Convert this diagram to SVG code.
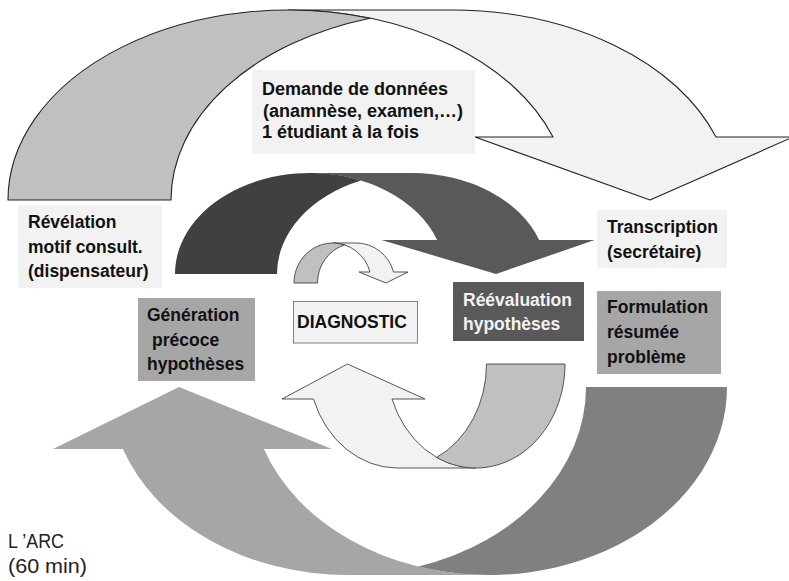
<svg xmlns="http://www.w3.org/2000/svg" width="789" height="581" viewBox="0 0 789 581">
<style>
.t{font-family:"Liberation Sans",Arial,sans-serif;font-weight:bold;font-size:17.5px;fill:#111}
.w{fill:#f2f2f2}
.reg{font-family:"Liberation Sans",Arial,sans-serif;font-size:20px;fill:#222}
.ol{stroke:#222;stroke-width:1.1;stroke-linejoin:round}
.ols{stroke:#444;stroke-width:0.9;stroke-linejoin:round}
.light{fill:#f2f2f2}
.lgray{fill:#c0c0c0}
</style>
<rect width="789" height="581" fill="#ffffff"/>
<g id="connectors">
  <g id="arrow-top">
    <path class="light ol" d="M 650 200 L 475 137 L 553 137 A 280.5 190 0 0 0 288.5 10 L 451.5 10 A 280.5 190 0 0 1 716 137 L 793 137 Z"/>
    <path class="lgray ol" d="M 8 200 A 280.5 190 0 0 1 370 18.2 A 280.5 190 0 0 0 171 200 Z"/>
  </g>
  <g id="arrow-dark">
    <path fill="#595959" d="M 496 274 L 381.5 240 L 437.1 240 A 135 101 0 0 0 310 173 L 412 173 A 135 101 0 0 1 539.1 240 L 594.7 240 Z"/>
    <path fill="#404040" d="M 175 274 A 135 101 0 0 1 361 180.5 A 135 101 0 0 0 277 274 Z"/>
  </g>
  <g id="arrow-small-top">
    <path class="light ols" d="M 386 283 L 359 272 L 370 272 A 38.8 40 0 0 0 332.8 243 L 356.3 243 A 38.8 40 0 0 1 393.6 272 L 408 272 Z"/>
    <path class="lgray ols" d="M 294 283 A 38.8 40 0 0 1 344.55 244.9 A 38.8 40 0 0 0 317.5 283 Z"/>
  </g>
  <g id="arrow-small-bottom">
    <path class="light ols" d="M 347.5 364 L 425 399 L 392 399 A 89.1 104 0 0 0 475.9 468 L 397.4 468 A 89.1 104 0 0 1 313.5 399 L 282 399 Z"/>
    <path class="lgray ols" d="M 565 364 A 89.1 104 0 0 1 436.65 457.4 A 89.1 104 0 0 0 486.5 364 Z"/>
  </g>
  <g id="arrow-bottom">
    <path fill="#a6a6a6" d="M 179 387 L 332 449 L 263.9 449 A 238.2 188 0 0 0 488.8 575 L 347.8 575 A 238.2 188 0 0 1 122.9 449 L 53 449 Z"/>
    <path fill="#808080" d="M 727 387 A 238.2 188 0 0 1 418.3 566.6 A 238.2 188 0 0 0 586 387 Z"/>
  </g>
</g>
<g id="demande">
  <rect x="252" y="70" width="223" height="84" fill="#f2f2f2"/>
  <text class="t" style="font-size:18px" x="262" y="95">Demande de données</text>
  <text class="t" style="font-size:18px" x="263" y="117">(anamnèse, examen,…)</text>
  <text class="t" style="font-size:18px" x="262" y="138">1 étudiant à la fois</text>
</g>
<g id="revelation">
  <rect x="18" y="205" width="144" height="83" fill="#f2f2f2"/>
  <text class="t" x="28" y="228">Révélation</text>
  <text class="t" x="28" y="253">motif consult.</text>
  <text class="t" x="28" y="277">(dispensateur)</text>
</g>
<g id="transcription">
  <rect x="597" y="210" width="130" height="58" fill="#f2f2f2"/>
  <text class="t" x="607" y="233">Transcription</text>
  <text class="t" x="607" y="258">(secrétaire)</text>
</g>
<g id="generation">
  <rect x="138" y="298" width="117" height="83" fill="#a6a6a6"/>
  <text class="t" x="147" y="321">Génération</text>
  <text class="t" x="152" y="346">précoce</text>
  <text class="t" x="147" y="370">hypothèses</text>
</g>
<g id="diagnostic">
  <rect x="293.5" y="301.5" width="124" height="41.5" fill="#f2f2f2" stroke="#808080" stroke-width="1"/>
  <text class="t" x="297" y="328">DIAGNOSTIC</text>
</g>
<g id="reevaluation">
  <rect x="453" y="282" width="131" height="59" fill="#595959"/>
  <text class="t w" x="463" y="306">Réévaluation</text>
  <text class="t w" x="463" y="330">hypothèses</text>
</g>
<g id="formulation">
  <rect x="597" y="291" width="124" height="83" fill="#a6a6a6"/>
  <text class="t" x="607" y="313">Formulation</text>
  <text class="t" x="607" y="338">résumée</text>
  <text class="t" x="607" y="363">problème</text>
</g>
<g id="arc-label">
  <text class="reg" x="8" y="548" textLength="56" lengthAdjust="spacingAndGlyphs">L ’ARC</text>
  <text class="reg" x="8" y="573" textLength="79" lengthAdjust="spacingAndGlyphs">(60 min)</text>
</g>
</svg>
